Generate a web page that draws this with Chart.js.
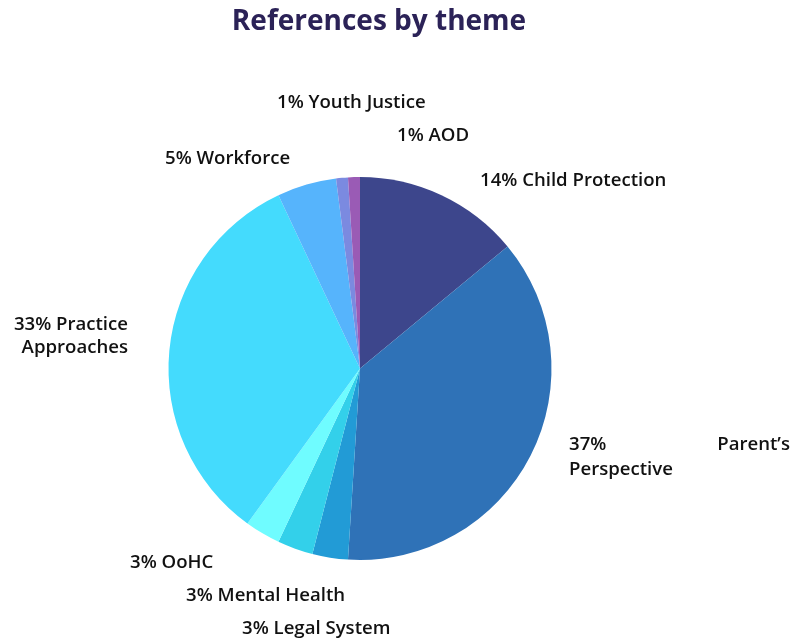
<!DOCTYPE html>
<html>
<head>
<meta charset="utf-8">
<script src="https://cdn.jsdelivr.net/npm/chart.js@4"></script>
<style>
  body { margin: 0; background: #fff; }
</style>
</head>
<body>
<canvas id="themeChart" width="791" height="639"></canvas>
<script>
const categories = ['Child Protection', 'Parent\u2019s Perspective', 'Legal System', 'Mental Health', 'OoHC', 'Practice Approaches', 'Workforce', 'Youth Justice', 'AOD'];
const shares = [14, 37, 3, 3, 3, 33, 5, 1, 1];
const colours = ['#3d468c', '#2f72b7', '#229bd6', '#33d0ea', '#6ffcff', '#44dbfd', '#56b4fc', '#7b8ae0', '#9a5bb5'];

// where each label sits, relative to the pie centre
const labelSpots = [
  { dx: 120, dy: -188 },
  { dx: 209, dy: 76, justifyTo: 430 },
  { dx: -118, dy: 260 },
  { dx: -174, dy: 227 },
  { dx: -230, dy: 194 },
  { dx: -232, dy: -44, wrap: true },
  { dx: -195, dy: -210 },
  { dx: -83, dy: -266 },
  { dx: 37, dy: -233 }
];

const labelFont = '600 18.6px "Open Sans", sans-serif';

const themeLabels = {
  id: 'themeLabels',
  afterDraw(chart) {
    const c = chart.ctx;
    const arc = chart.getDatasetMeta(0).data[0];
    const cx = arc.x, cy = arc.y;
    c.save();
    c.fillStyle = '#2b2257';
    c.font = 'bold 28px "Open Sans", sans-serif';
    c.textAlign = 'center';
    c.textBaseline = 'middle';
    c.fillText('References by theme', 379, 22);

    c.font = labelFont;
    c.fillStyle = '#111';
    categories.forEach((name, i) => {
      const s = labelSpots[i];
      const x = cx + s.dx, y = cy + s.dy;
      const words = name.split(' ');
      if (s.justifyTo) {
        c.textAlign = 'left';
        c.fillText(shares[i] + '%', x, y);
        c.textAlign = 'right';
        c.fillText(words[0], x + s.justifyTo - 209, y);
        c.textAlign = 'left';
        c.fillText(words.slice(1).join(' '), x, y + 25);
      } else if (s.wrap) {
        c.textAlign = 'right';
        c.fillText(shares[i] + '% ' + words[0], x, y);
        c.fillText(words.slice(1).join(' '), x, y + 23);
      } else {
        c.textAlign = 'left';
        c.fillText(shares[i] + '% ' + name, x, y);
      }
    });
    c.restore();
  }
};

new Chart(document.getElementById('themeChart'), {
  type: 'pie',
  data: {
    labels: categories,
    datasets: [{
      data: shares,
      backgroundColor: colours,
      borderWidth: 0
    }]
  },
  options: {
    responsive: false,
    animation: false,
    layout: {
      padding: { top: 177, bottom: 79, left: 0, right: 71 }
    },
    plugins: {
      legend: { display: false },
      tooltip: { enabled: false }
    }
  },
  plugins: [themeLabels]
});
</script>
</body>
</html>
